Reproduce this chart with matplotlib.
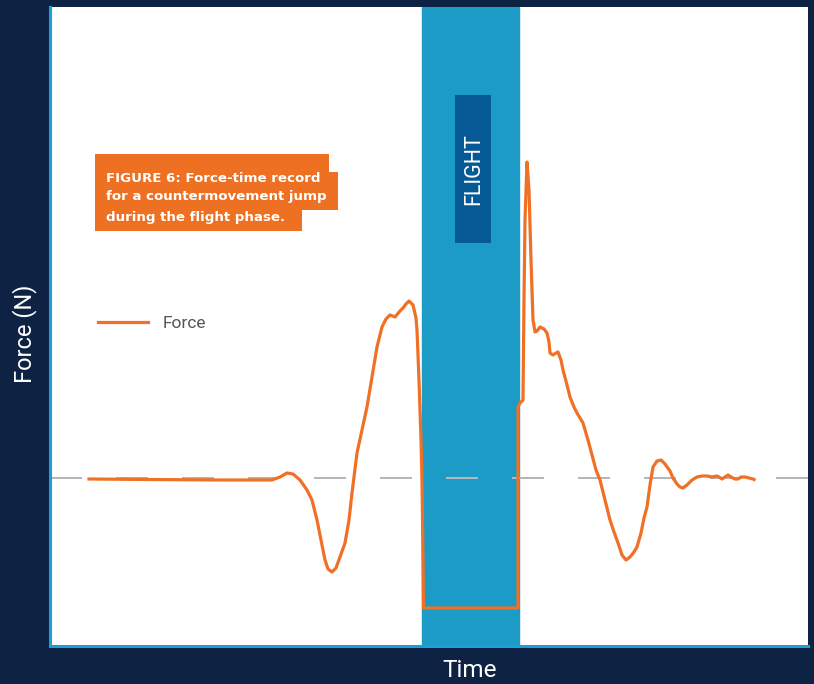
import numpy as np
import matplotlib
matplotlib.use("Agg")
import matplotlib.pyplot as plt
from matplotlib.patches import Polygon, Rectangle

# ---------- data (time in ms, force in N) ----------
time_ms = [156, 400, 680, 888, 920, 948, 972, 1000, 1028, 1048, 1068, 1084, 1100,
           1112, 1128, 1144, 1160, 1180, 1196, 1208, 1228, 1248, 1268, 1288, 1308,
           1328, 1344, 1360, 1380, 1400, 1412, 1424, 1436, 1452, 1464, 1468, 1476,
           1484, 1488, 1492, 1494, 1872, 1872, 1880, 1892, 1896, 1900, 1908, 1916,
           1924, 1932, 1940, 1948, 1960, 1976, 1988, 1996, 2000, 2012, 2024, 2032,
           2044, 2052, 2068, 2080, 2096, 2108, 2132, 2152, 2168, 2184, 2200, 2220,
           2240, 2256, 2272, 2288, 2304, 2320, 2336, 2348, 2364, 2376, 2388, 2400,
           2412, 2428, 2444, 2460, 2480, 2492, 2508, 2520, 2532, 2548, 2568, 2588,
           2608, 2628, 2648, 2668, 2676, 2688, 2700, 2712, 2724, 2740, 2752, 2764,
           2780, 2796, 2812, 2816]
force_n = [774, 771, 768, 768, 786, 810, 804, 768, 708, 648, 528, 408, 288,
           234, 216, 240, 306, 390, 528, 690, 930, 1068, 1206, 1386, 1566,
           1686, 1734, 1758, 1746, 1782, 1800, 1824, 1842, 1818, 1740, 1668, 1368,
           1008, 768, 288, 0, 0, 1206, 1230, 1248, 1848, 2328, 2676, 2508,
           2088, 1728, 1656, 1662, 1686, 1674, 1650, 1596, 1530, 1518, 1530, 1536,
           1488, 1428, 1338, 1266, 1206, 1170, 1110, 1008, 918, 828, 768, 648,
           528, 456, 390, 318, 288, 306, 336, 366, 450, 540, 606, 738,
           846, 882, 888, 864, 822, 780, 744, 726, 720, 738, 768, 786,
           792, 792, 786, 792, 786, 774, 786, 798, 786, 774, 774, 786,
           786, 780, 774, 771]
body_weight = 780
flight_start, flight_end = 1488, 1876

NAVY = "#0e2243"
BAND = "#1d9bc7"
BOX = "#055a96"
ORANGE = "#ee7022"
SPINE = "#1a9fd6"

W, H = 814, 684
fig = plt.figure(figsize=(W / 100, H / 100), dpi=100, facecolor=NAVY)
ax = fig.add_axes([50 / W, 1 - 646 / H, 758 / W, 639 / H])
ax.set_facecolor("white")


def fpx(x, y):
    """pixel position -> figure fraction"""
    return x / W, 1 - y / H


# flight phase band + label box
ax.axvspan(flight_start, flight_end, color=BAND, zorder=1)
ax.add_patch(Rectangle((1620, 2190), 144, 888, facecolor=BOX, edgecolor="none", zorder=2))
ax.text(1694, 2634, "FLIGHT", rotation=90, ha="center", va="center",
        color="white", fontsize=15.5, family="Roboto", zorder=3)

# body weight reference
ax.axhline(body_weight, color="#b5b5ba", lw=1.44, linestyle=(0, (16, 17)), zorder=2)

ax.plot(time_ms, force_n, color="#f07025", lw=2.3, label="Force",
        solid_joinstyle="round", zorder=4)

ax.set_xlim(0, 3032)
ax.set_ylim(-228, 3606)
ax.set_xticks([])
ax.set_yticks([])
for s in ["top", "right"]:
    ax.spines[s].set_visible(False)
for s in ["left", "bottom"]:
    ax.spines[s].set_color(SPINE)
    ax.spines[s].set_linewidth(2.2)

ax.set_ylabel("Force (N)", color="white", fontsize=17, family="Roboto")
ax.yaxis.set_label_coords(-0.017, 0.489)
ax.set_xlabel("Time", color="white", fontsize=17.5, family="Roboto")
ax.xaxis.set_label_coords(0.554, -0.021)

leg = ax.legend(loc="center left", bbox_to_anchor=fpx(89, 323),
                bbox_transform=fig.transFigure, frameon=False,
                handlelength=2.9, handletextpad=0.85, borderpad=0,
                prop={"family": "Roboto", "size": 12.5})
for t in leg.get_texts():
    t.set_color("#555555")

# caption tag
tag = [(95, 154), (329, 154), (329, 172), (338, 172), (338, 210),
       (302, 210), (302, 231), (95, 231)]
fig.patches.append(Polygon([fpx(*p) for p in tag], closed=True, facecolor=ORANGE,
                           edgecolor="none", transform=fig.transFigure, zorder=5))
caption = ["FIGURE 6: Force-time record", "for a countermovement jump",
           "during the flight phase."]
for line, base in zip(caption, [182, 200, 221]):
    fig.text(*fpx(106, base), line, color="white", fontsize=9.6, family="DejaVu Sans",
             weight="bold", va="baseline", ha="left", zorder=6)

fig.savefig("out.png", dpi=100, facecolor=NAVY)
